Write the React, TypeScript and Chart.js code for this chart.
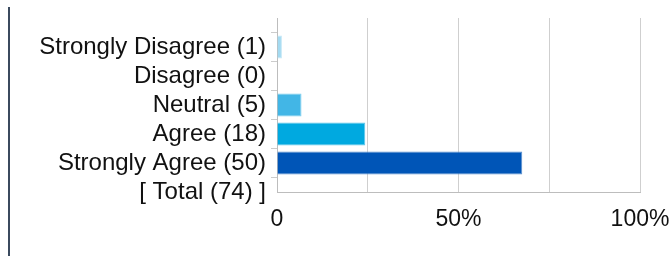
import React, { useEffect, useRef } from "react";
import { Chart, registerables } from "chart.js";

Chart.register(...registerables);

const answerNames = ["Strongly Disagree", "Disagree", "Neutral", "Agree", "Strongly Agree"];
const answerCounts = [1, 0, 5, 18, 50];
const totalCount = 74;
const barColors = ["#a3daf1", "#a3daf1", "#42b6e6", "#00a9e0", "#0055b7"];
const barEdgeColors = ["#c3e7f6", "#c3e7f6", "#7acdee", "#5cc6ea", "#5a8fcd"];
const xTickLabels: Record<number, string> = { 0: "0", 50: "50%", 100: "100%" };

const FONT = "'Liberation Sans', Arial, sans-serif";

export default function App() {
  const ref = useRef<HTMLCanvasElement>(null);
  useEffect(() => {
    if (!ref.current) return;
    const labels = ["", ...answerNames.map((n, i) => `${n} (${answerCounts[i]})`), `[ Total (${totalCount}) ]`];
    const values = [null, ...answerCounts.map((c) => (c / totalCount) * 100), null];
    const chart = new Chart(ref.current, {
      type: "bar",
      data: {
        labels,
        datasets: [
          {
            data: values as any,
            backgroundColor: [null, ...barColors, null] as any,
            borderColor: [null, ...barEdgeColors, null] as any,
            borderWidth: 1,
            borderSkipped: "start",
            barPercentage: 0.8,
            categoryPercentage: 1,
          },
        ],
      },
      options: {
        indexAxis: "y",
        animation: false,
        responsive: false,
        layout: { padding: { top: 18, right: 31, left: 0, bottom: 0 } },
        plugins: { legend: { display: false }, tooltip: { enabled: false } },
        scales: {
          y: {
            type: "category",
            offset: false,
            afterFit: (s: any) => {
              s.width = 277;
              s.paddingTop = 0;
              s.paddingBottom = 0;
            },
            grid: {
              drawOnChartArea: false,
              drawTicks: true,
              tickLength: 6,
              color: (c: any) => (c.index === 0 ? "rgba(0,0,0,0)" : "#cccccc"),
            },
            border: { color: "#bdbdbd", width: 1 },
            ticks: {
              color: "#111111",
              font: { family: FONT, size: 24 },
              padding: 5,
              autoSkip: false,
            },
          },
          x: {
            min: 0,
            max: 100,
            afterFit: (s: any) => {
              s.height = 64;
              s.paddingLeft = 0;
              s.paddingRight = 0;
            },
            grid: { color: "#cfcfcf", drawTicks: false },
            border: { color: "#bdbdbd", width: 1 },
            ticks: {
              stepSize: 25,
              color: "#111111",
              font: { family: FONT, size: 23 },
              padding: 14,
              maxRotation: 0,
              autoSkip: false,
              callback: (v: any) => xTickLabels[v as number] ?? "",
            },
          },
        },
      },
    });
    return () => chart.destroy();
  }, []);
  return (
    <div style={{ position: "fixed", left: 0, top: 0, width: 671, height: 256, background: "#fff" }}>
      <div style={{ position: "absolute", left: 8, top: 7, width: 2, height: 249, background: "#3b4a5e" }} />
      <canvas ref={ref} width={671} height={256} style={{ position: "absolute", left: 0, top: 0 }} />
    </div>
  );
}
